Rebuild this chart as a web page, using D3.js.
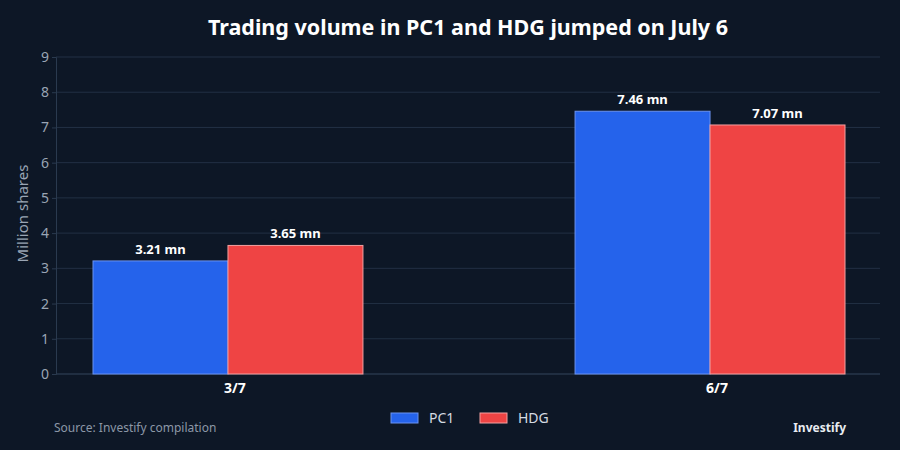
<!DOCTYPE html>
<html lang="en">
<head>
    <meta charset="UTF-8">
    <title>Trading volume</title>
    <script src="https://unpkg.com/d3@7.8.5/dist/d3.min.js"></script>
    <style>
        * { margin: 0; padding: 0; box-sizing: border-box; }
        body { background: #0d1726; }
        svg { display: block; font-family: "Noto Sans", sans-serif; }
    </style>
</head>
<body>
    <svg class="cc"></svg>
    <script>
        // 数据
        const dates = ['3/7', '6/7']
        const seriesNames = ['PC1', 'HDG']
        const pc1 = [3.21, 7.46]
        const hdg = [3.65, 7.07]
        const yTicks = [0, 1, 2, 3, 4, 5, 6, 7, 8, 9]
        const colors = ['#2563eb', '#ef4444']
        const strokes = ['#6b93f0', '#f4a0a0']

        const width = 900, height = 450
        const plot = { left: 56, right: 880, top: 57, bottom: 374 }

        const svg = d3.select('svg').attr('width', width).attr('height', height)

        svg.append('rect').attr('width', width).attr('height', height).attr('fill', '#0d1726')

        const y = d3.scaleLinear().domain([0, 9]).range([plot.bottom, plot.top])
        const x0 = d3.scaleBand().domain(dates).range([93, 845]).paddingInner(0.44)
        const x1 = d3.scaleBand().domain(seriesNames).range([0, x0.bandwidth()])

        // 网格
        svg.append('g')
            .selectAll('line')
            .data(yTicks)
            .join('line')
            .attr('x1', plot.left)
            .attr('x2', plot.right)
            .attr('y1', d => y(d))
            .attr('y2', d => y(d))
            .attr('stroke', '#223044')
            .attr('stroke-width', 1)

        // y轴
        const yAxis = svg.append('g')
            .attr('transform', `translate(${plot.left},0)`)
            .call(d3.axisLeft(y).tickValues(yTicks).tickSize(4).tickPadding(3))
        yAxis.select('.domain').attr('stroke', '#2a3a4f')
        yAxis.selectAll('.tick line').attr('stroke', '#2a3a4f')
        yAxis.selectAll('.tick text')
            .attr('fill', '#9aa5b4')
            .attr('font-size', 14)
            .attr('font-family', '"Noto Sans", sans-serif')

        svg.append('text')
            .attr('transform', `translate(28,${(plot.top + plot.bottom) / 2 - 2}) rotate(-90)`)
            .attr('text-anchor', 'middle')
            .attr('fill', '#9aa5b4')
            .attr('font-size', 15)
            .text('Million shares')

        // x轴线
        svg.append('line')
            .attr('x1', plot.left).attr('x2', plot.right)
            .attr('y1', plot.bottom).attr('y2', plot.bottom)
            .attr('stroke', '#2a3a4f')

        // 柱子
        const rows = dates.map((d, i) => ({ date: d, values: [pc1[i], hdg[i]] }))
        const groups = svg.append('g')
            .selectAll('g')
            .data(rows)
            .join('g')
            .attr('transform', d => `translate(${x0(d.date)},0)`)

        groups.selectAll('rect')
            .data(d => d.values.map((v, i) => ({ key: seriesNames[i], value: v, i })))
            .join('rect')
            .attr('x', d => x1(d.key))
            .attr('y', d => y(d.value))
            .attr('width', x1.bandwidth())
            .attr('height', d => plot.bottom - y(d.value))
            .attr('fill', d => colors[d.i])
            .attr('stroke', d => strokes[d.i])
            .attr('stroke-width', 1)

        groups.selectAll('.lbl')
            .data(d => d.values.map((v, i) => ({ key: seriesNames[i], value: v })))
            .join('text')
            .attr('class', 'lbl')
            .attr('x', d => x1(d.key) + x1.bandwidth() / 2)
            .attr('y', d => y(d.value) - 7)
            .attr('text-anchor', 'middle')
            .attr('fill', '#ffffff')
            .attr('font-size', 13)
            .attr('font-weight', 'bold')
            .text(d => d.value.toFixed(2) + ' mn')

        // x 标签
        svg.append('g')
            .selectAll('text')
            .data(dates)
            .join('text')
            .attr('x', d => x0(d) + x0.bandwidth() / 2 + 7)
            .attr('y', plot.bottom + 19)
            .attr('text-anchor', 'middle')
            .attr('fill', '#ffffff')
            .attr('font-size', 14)
            .attr('font-weight', 'bold')
            .text(d => d)

        // 标题
        svg.append('text')
            .attr('x', (plot.left + plot.right) / 2)
            .attr('y', 35)
            .attr('text-anchor', 'middle')
            .attr('fill', '#ffffff')
            .attr('font-size', 21.5)
            .attr('font-weight', 'bold')
            .text('Trading volume in PC1 and HDG jumped on July 6')

        // 图例
        const legend = svg.append('g')
            .selectAll('g')
            .data(seriesNames)
            .join('g')
            .attr('transform', (d, i) => `translate(${391 + i * 89},413)`)
        legend.append('rect')
            .attr('width', 27).attr('height', 10)
            .attr('fill', (d, i) => colors[i])
            .attr('stroke', (d, i) => strokes[i])
        legend.append('text')
            .attr('x', 38).attr('y', 10)
            .attr('fill', '#d5dbe3')
            .attr('font-size', 14)
            .text(d => d)

        svg.append('text')
            .attr('x', 54).attr('y', 432)
            .attr('fill', '#8c97a6')
            .attr('font-size', 12)
            .text('Source: Investify compilation')

        svg.append('text')
            .attr('x', 846).attr('y', 432)
            .attr('text-anchor', 'end')
            .attr('fill', '#e8ecf1')
            .attr('font-size', 12)
            .attr('font-weight', 'bold')
            .text('Investify')
    </script>
</body>
</html>
